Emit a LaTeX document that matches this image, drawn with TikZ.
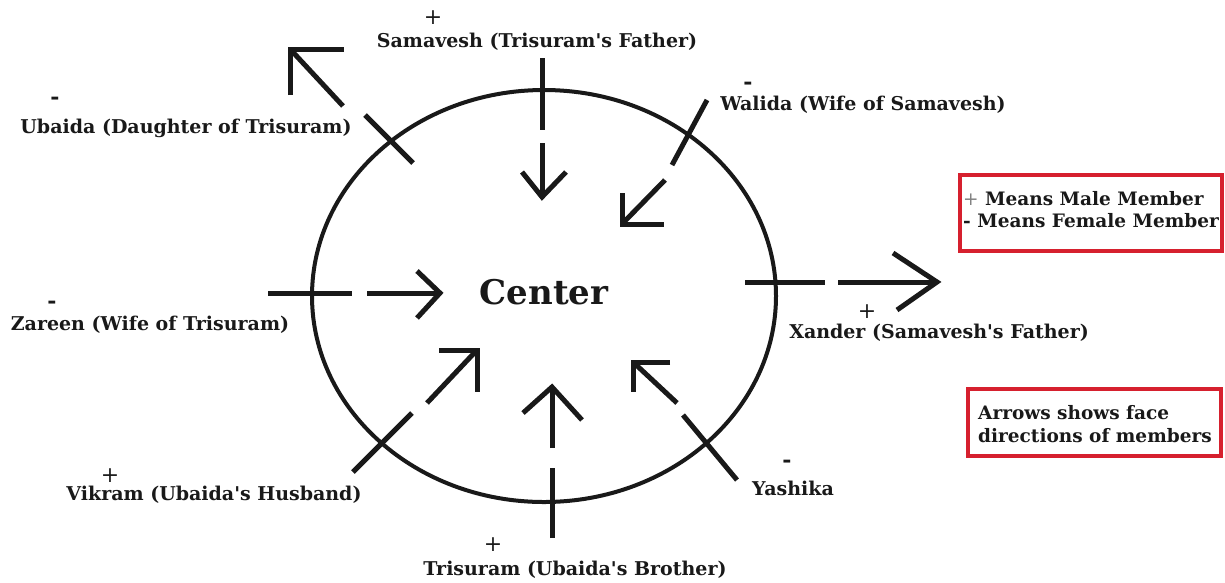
\documentclass[tikz,border=0pt]{standalone}
\usepackage{fontspec}
\setmainfont{DejaVu Serif}[Ligatures=TeXOff]
\definecolor{boxred}{RGB}{214,32,46}
\definecolor{ink}{RGB}{25,25,25}
\begin{document}
\begin{tikzpicture}[x=1pt,y=-1pt,
  arr/.style={line width=5pt, ink},
  lbl/.style={inner sep=0pt, font=\fontsize{19}{21}\selectfont\bfseries, text=ink},
  plus/.style={inner sep=0pt, font=\fontsize{22}{24}\selectfont, text=ink},
  minus/.style={inner sep=0pt, font=\fontsize{22}{24}\selectfont\bfseries, text=ink},
  legend/.style={inner sep=0pt, anchor=west, font=\fontsize{18.5}{20}\selectfont\bfseries, text=ink},
  redbox/.style={draw=boxred, line width=4pt}]
\useasboundingbox (0,0) rectangle (1225,582);
\fill[white] (0,0) rectangle (1225,582);

% circle
\draw[line width=4pt, ink] (544,296) ellipse [x radius=232pt, y radius=206pt];

% Samavesh
\coordinate (s1a) at (542,58); \coordinate (s1b) at (542,130);
\coordinate (s2a) at (542,143); \coordinate (stip) at (542,197);
\coordinate (sl) at (522,172); \coordinate (sr) at (566,172);
\draw[arr] (s1a) -- (s1b);
\draw[arr] (s2a) -- (stip);
\draw[arr] (sl) -- (stip) -- (sr);

% Ubaida
\coordinate (u1a) at (413,163); \coordinate (u1b) at (365,115);
\coordinate (u2a) at (343,106); \coordinate (utip) at (290,49);
\coordinate (ul) at (290,95); \coordinate (ur) at (344,49);
\draw[arr] (u1a) -- (u1b);
\draw[arr] (u2a) -- (utip);
\draw[arr] (ul) -- (utip) -- (ur);

% Walida
\coordinate (w1a) at (707,100); \coordinate (w1b) at (672,165);
\coordinate (w2a) at (665,180); \coordinate (wtip) at (622,224);
\coordinate (wl) at (622,193); \coordinate (wr) at (664,224);
\draw[arr] (w1a) -- (w1b);
\draw[arr] (w2a) -- (wtip);
\draw[arr] (wl) -- (wtip) -- (wr);

% Zareen
\coordinate (z1a) at (268,293); \coordinate (z1b) at (352,293);
\coordinate (z2a) at (367,293); \coordinate (ztip) at (440,293);
\coordinate (zl) at (417,271); \coordinate (zr) at (417,318);
\draw[arr] (z1a) -- (z1b);
\draw[arr] (z2a) -- (ztip);
\draw[arr] (zl) -- (ztip) -- (zr);

% Xander
\coordinate (x1a) at (745,282); \coordinate (x1b) at (825,282);
\coordinate (x2a) at (838,282); \coordinate (xtip) at (937,282);
\coordinate (xl) at (893,253); \coordinate (xr) at (897,310);
\draw[arr] (x1a) -- (x1b);
\draw[arr] (x2a) -- (xtip);
\draw[arr] (xl) -- (xtip) -- (xr);

% Vikram
\coordinate (v1a) at (353,472); \coordinate (v1b) at (412,413);
\coordinate (v2a) at (427,403); \coordinate (vtip) at (477,350);
\coordinate (vl) at (439,350); \coordinate (vr) at (477,392);
\draw[arr] (v1a) -- (v1b);
\draw[arr] (v2a) -- (vtip);
\draw[arr] (vl) -- (vtip) -- (vr);

% Yashika
\coordinate (y1a) at (737,480); \coordinate (y1b) at (683,415);
\coordinate (y2a) at (677,403); \coordinate (ytip) at (633,362);
\coordinate (yl) at (670,362); \coordinate (yr) at (633,392);
\draw[arr] (y1a) -- (y1b);
\draw[arr] (y2a) -- (ytip);
\draw[arr] (yl) -- (ytip) -- (yr);

% Trisuram
\coordinate (t1a) at (552,538); \coordinate (t1b) at (552,468);
\coordinate (t2a) at (552,448); \coordinate (ttip) at (552,387);
\coordinate (tl) at (523,413); \coordinate (tr) at (582,420);
\draw[arr] (t1a) -- (t1b);
\draw[arr] (t2a) -- (ttip);
\draw[arr] (tl) -- (ttip) -- (tr);

% labels
\node[lbl, font=\fontsize{34}{36}\selectfont\bfseries] (center) at (544,292) {Center};
\node[plus] (sS) at (433,18) {+};
\node[lbl] (lS) at (537,42) {Samavesh (Trisuram's Father)};
\node[minus] (sW) at (748,86) {-};
\node[lbl] (lW) at (863,105) {Walida (Wife of Samavesh)};
\node[minus] (sU) at (55,101) {-};
\node[lbl] (lU) at (186,128) {Ubaida (Daughter of Trisuram)};
\node[minus] (sZ) at (52,305) {-};
\node[lbl] (lZ) at (150,325) {Zareen (Wife of Trisuram)};
\node[plus] (sX) at (867,312) {+};
\node[lbl] (lX) at (939,333) {Xander (Samavesh's Father)};
\node[plus] (sV) at (110,476) {+};
\node[lbl] (lV) at (214,495) {Vikram (Ubaida's Husband)};
\node[minus] (sY) at (787,464) {-};
\node[lbl] (lY) at (793,488) {Yashika};
\node[plus] (sT) at (493,545) {+};
\node[lbl] (lT) at (575,570) {Trisuram (Ubaida's Brother)};

% legend boxes
\draw[redbox] (960,175) rectangle (1222,251);
\node[legend] (m1) at (963,199) {{\mdseries\color{gray}+} Means Male Member};
\node[legend] (m2) at (963,221) {- Means Female Member};
\draw[redbox] (968,389) rectangle (1221,456);
\node[legend] (a1) at (978,413) {Arrows shows face};
\node[legend] (a2) at (978,436) {directions of members};
\end{tikzpicture}
\end{document}
